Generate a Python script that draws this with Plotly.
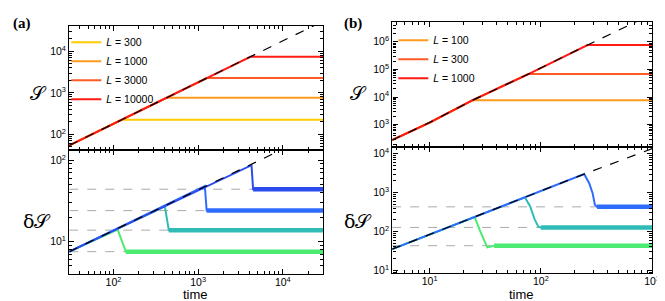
import math
import plotly.graph_objects as go

# ---------------- Panel (a) data ----------------
a_L = [300, 1000, 3000, 10000]
a_S_line_t = [30, 30000]
a_S_line = [54, 54000]
a_S_t = [[30, 124, 30000], [30, 422, 30000], [30, 1264, 30000], [30, 4140, 30000]]
a_S_vals = [[54, 224, 224], [54, 760, 760], [54, 2275, 2275], [54, 7450, 7450]]

a_dS_line_t = [30, 30000]
a_dS_line = [7.5, 237]
a_dS_t = [[30, 112, 140, 30000], [30, 404, 450, 30000],
          [30, 1200, 1260, 30000], [30, 4270, 4460, 30000]]
a_dS_vals = [[7.5, 14, 7.5, 7.5], [7.5, 27, 13.8, 13.8],
             [7.5, 48, 24, 24], [7.5, 87, 44, 44]]
a_dS_plateau = [7.5, 13.8, 24, 44]

# ---------------- Panel (b) data ----------------
b_L = [100, 300, 1000]
b_S_line_t = [4.6, 10, 24.2, 77.3, 263, 1000]
b_S_line = [280, 1200, 7600, 68000, 760000, 1.0e7]
b_S_t = [[4.6, 10, 24.2, 1000], [4.6, 10, 24.2, 77.3, 1000], [4.6, 10, 24.2, 77.3, 263, 1000]]
b_S_vals = [[280, 1200, 7600, 7600], [280, 1200, 7600, 68000, 68000],
            [280, 1200, 7600, 68000, 760000, 760000]]

b_dS_line_t = [4.6, 10, 25, 100, 245, 1000]
b_dS_line = [35, 83, 230, 1100, 3000, 13500]
b_dS_t = [[4.6, 10, 25.4, 28.5, 33, 38, 1000],
          [4.6, 10, 25, 72, 80, 88, 95, 100, 1000],
          [4.6, 10, 25, 100, 245, 272, 292, 306, 320, 1000]]
b_dS_vals = [[35, 83, 234, 102, 39, 43, 43],
             [35, 83, 230, 752, 445, 204, 133, 127, 127],
             [35, 83, 230, 1100, 3000, 1740, 968, 490, 430, 430]]
b_dS_plateau = [43, 127, 430]

# tick decades (exponents) shown on each axis
a_x_exp = [2, 3, 4]
a_yS_exp = [2, 3, 4]
a_ydS_exp = [1, 2]
b_x_exp = [1, 2, 3]
b_yS_exp = [3, 4, 5, 6]
b_ydS_exp = [1, 2, 3, 4]

a_colors_S = ["#ffcc00", "#ff9a1f", "#ff5a26", "#ff1a12"]
a_colors_dS = ["#4cec72", "#2fbcb6", "#2e6cff", "#2a4cef"]
b_colors_S = ["#ff9a1f", "#ff5a26", "#ff1a12"]
b_colors_dS = ["#4cec72", "#2fbcb6", "#2e6cff"]

W, H = 665, 301
FONT = "Liberation Sans, Arial, sans-serif"

fig = go.Figure()

def add(x, y, xa, ya, **kw):
    fig.add_trace(go.Scatter(x=x, y=y, xaxis=xa, yaxis=ya, mode="lines", **kw))

# ---- (a) top ----
for L, t, v, c in zip(a_L, a_S_t, a_S_vals, a_colors_S):
    add(t, v, "x", "y", line=dict(color=c, width=2), name=f"<i>L</i> = {L}",
        legend="legend", showlegend=True)
add(a_S_line_t, a_S_line, "x", "y", line=dict(color="black", width=1.2, dash="dash"), showlegend=False)

# ---- (a) bottom ----
for p in a_dS_plateau:
    add([a_dS_line_t[0], a_dS_line_t[-1]], [p, p], "x3", "y3",
        line=dict(color="#aaaaaa", width=1, dash="dash"), showlegend=False)
for t, v, c in zip(a_dS_t, a_dS_vals, a_colors_dS):
    add(t, v, "x3", "y3", line=dict(color=c, width=2), showlegend=False)
    add(t[-2:], v[-2:], "x3", "y3", line=dict(color=c, width=4.5), showlegend=False)
add(a_dS_line_t, a_dS_line, "x3", "y3", line=dict(color="black", width=1.2, dash="dash"), showlegend=False)

# ---- (b) top ----
for L, t, v, c in zip(b_L, b_S_t, b_S_vals, b_colors_S):
    add(t, v, "x2", "y2", line=dict(color=c, width=2), name=f"<i>L</i> = {L}",
        legend="legend2", showlegend=True)
add(b_S_line_t, b_S_line, "x2", "y2", line=dict(color="black", width=1.2, dash="dash"), showlegend=False)

# ---- (b) bottom ----
for p in b_dS_plateau:
    add([b_dS_line_t[0], b_dS_line_t[-1]], [p, p], "x4", "y4",
        line=dict(color="#aaaaaa", width=1, dash="dash"), showlegend=False)
for t, v, c in zip(b_dS_t, b_dS_vals, b_colors_dS):
    add(t, v, "x4", "y4", line=dict(color=c, width=2), showlegend=False)
    add(t[-2:], v[-2:], "x4", "y4", line=dict(color=c, width=4.5), showlegend=False)
add(b_dS_line_t, b_dS_line, "x4", "y4", line=dict(color="black", width=1.2, dash="dash"), showlegend=False)


def minor_vals(lo, hi):
    out = []
    for e in range(math.floor(lo), math.ceil(hi) + 1):
        for m in range(2, 10):
            v = m * 10 ** e
            if lo <= math.log10(v) <= hi:
                out.append(v)
    return out


def ax(rng, domain, anchor, exps, labels=True, **kw):
    d = dict(type="log", range=rng, domain=domain, anchor=anchor,
             showline=True, linecolor="black", linewidth=1.4, mirror="allticks",
             ticks="inside", ticklen=5, tickwidth=1, tickcolor="black",
             tickmode="array", tickvals=[10 ** e for e in exps],
             ticktext=[f"10<sup>{e}</sup>" for e in exps],
             showgrid=False, zeroline=False, showticklabels=labels,
             minor=dict(ticks="inside", ticklen=3, tickwidth=1, tickcolor="black",
                        tickmode="array", tickvals=minor_vals(*rng), showgrid=False),
             tickfont=dict(family=FONT, size=10.5, color="black"))
    d.update(kw)
    return d

xa_dom = [62 / W, 319 / W]
xb_dom = [389 / W, 652 / W]
ya_top = [1 - 143 / H, 1 - 17 / H]
ya_bot = [1 - 269 / H, 1 - 143 / H]
yb_top = [1 - 140 / H, 1 - 13 / H]
yb_bot = [1 - 268 / H, 1 - 140 / H]

fig.update_layout(
    width=W, height=H, margin=dict(l=0, r=0, t=0, b=0),
    paper_bgcolor="white", plot_bgcolor="white",
    xaxis=ax([1.477, 4.477], xa_dom, "y", a_x_exp, labels=False, matches="x3"),
    yaxis=ax([1.62, 4.62], ya_top, "x", a_yS_exp),
    xaxis3=ax([1.477, 4.477], xa_dom, "y3", a_x_exp, ticklabelstandoff=-2),
    yaxis3=ax([0.595, 2.125], ya_bot, "x3", a_ydS_exp),
    xaxis2=ax([0.665, 3.0005], xb_dom, "y2", b_x_exp, labels=False, matches="x4"),
    yaxis2=ax([2.19, 6.72], yb_top, "x2", b_yS_exp),
    xaxis4=ax([0.665, 3.0005], xb_dom, "y4", b_x_exp, ticklabelstandoff=-2),
    yaxis4=ax([0.92, 4.17], yb_bot, "x4", b_ydS_exp),
    legend=dict(x=59 / W, y=1 - 19 / H, xanchor="left", yanchor="top",
                bgcolor="rgba(0,0,0,0)", font=dict(family=FONT, size=10.5, color="black")),
    legend2=dict(x=390 / W, y=1 - 17 / H, xanchor="left", yanchor="top",
                 bgcolor="rgba(0,0,0,0)", font=dict(family=FONT, size=10.5, color="black")),
)

lab_font = dict(family="DejaVu Serif, DejaVu Sans, serif", size=19, color="black")
panel_font = dict(family="Liberation Serif, Times New Roman, serif", size=15, color="black")
title_font = dict(family=FONT, size=13, color="black")
annots = [
    dict(text="<b>(a)</b>", x=14 / W, y=1 - 15 / H, font=panel_font),
    dict(text="<b>(b)</b>", x=349 / W, y=1 - 15 / H, font=panel_font),
    dict(text="𝒮", x=31 / W, y=1 - 85 / H, font=lab_font),
    dict(text="δ𝒮", x=29 / W, y=1 - 215 / H, font=lab_font),
    dict(text="𝒮", x=355 / W, y=1 - 85 / H, font=lab_font),
    dict(text="δ𝒮", x=354 / W, y=1 - 215 / H, font=lab_font),
    dict(text="time", x=190 / W, y=1 - 289.5 / H, font=title_font),
    dict(text="time", x=520 / W, y=1 - 289.5 / H, font=title_font),
]
for a in annots:
    fig.add_annotation(xref="paper", yref="paper", showarrow=False,
                       xanchor="center", yanchor="middle", **a)

fig.write_html("out.html")
